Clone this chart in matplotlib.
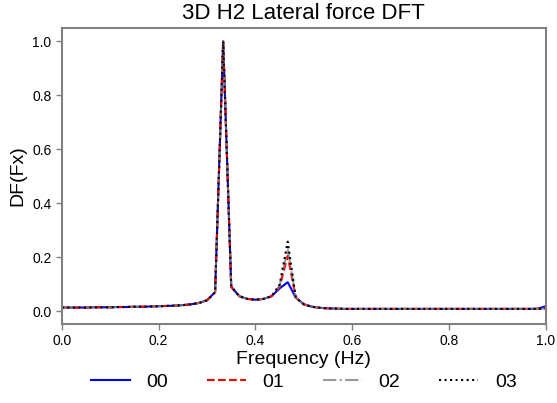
import numpy as np
import matplotlib
matplotlib.use("Agg")
import matplotlib.pyplot as plt

plt.rcParams['font.family'] = ['Liberation Sans', 'DejaVu Sans']

# frequency bins (Hz), step 1/60
freq = np.arange(0, 62) / 60.0

base = [0.013, 0.013, 0.013, 0.013, 0.014, 0.014, 0.014, 0.015, 0.015, 0.016,
        0.016, 0.017, 0.018, 0.019, 0.020, 0.022, 0.025, 0.030, 0.040, 0.070,
        1.000, 0.090, 0.055, 0.045, 0.042, 0.045, 0.055]
tail = [0.050, 0.025, 0.016, 0.012, 0.010, 0.009] + [0.008] * 24

s00 = base + [0.084, 0.107] + tail + [0.009, 0.018, 0.030]
s01 = base + [0.090, 0.205] + tail + [0.008, 0.010, 0.012]
s02 = base + [0.094, 0.230] + tail + [0.008, 0.009, 0.010]
s03 = base + [0.098, 0.257] + tail + [0.008, 0.009, 0.010]

fig = plt.figure(figsize=(5.57, 4.03), dpi=100)
ax = fig.add_axes([0.111, 0.196, 0.869, 0.735])

ax.plot(freq, s00, color='blue', linestyle='-', linewidth=1.5, label='00')
ax.plot(freq, s01, color='red', linestyle='--', linewidth=1.5, label='01')
ax.plot(freq, s02, color='gray', linestyle='-.', linewidth=1.5, alpha=0.8, label='02')
ax.plot(freq, s03, color='black', linestyle=':', linewidth=1.5, label='03')

ax.set_xlim(0, 1.0)
ax.set_ylim(-0.048, 1.05)
ax.set_xticks([0.0, 0.2, 0.4, 0.6, 0.8, 1.0])
ax.set_yticks([0.0, 0.2, 0.4, 0.6, 0.8, 1.0])

for sp in ax.spines.values():
    sp.set_color('#808080')
    sp.set_linewidth(1.5)
ax.tick_params(axis='both', direction='out', length=4, width=1, color='#808080',
               labelsize=10, labelcolor='black')

ax.set_title('3D H2 Lateral force DFT', fontsize=16)
ax.set_xlabel('Frequency (Hz)', fontsize=14, labelpad=2)
ax.set_ylabel('DF(Fx)', fontsize=14)

ax.legend(loc='center', bbox_to_anchor=(0.5, -0.195), ncol=4, frameon=False,
          fontsize=14, handlelength=2.0, handletextpad=0.85, columnspacing=2.0,
          borderpad=0.2)

fig.savefig('out.png', dpi=100)
